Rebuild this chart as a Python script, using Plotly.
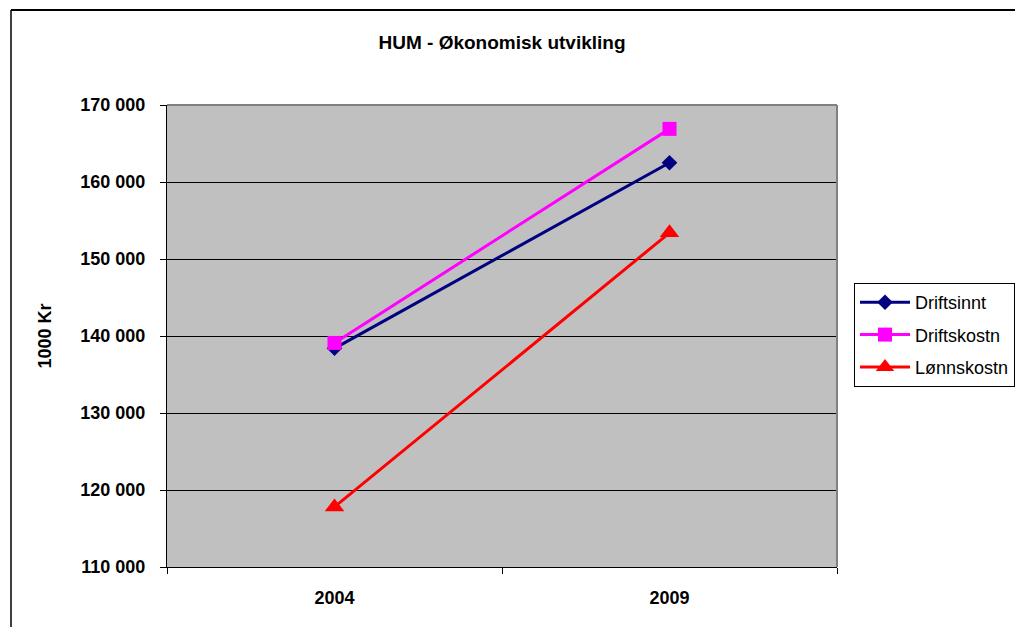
import plotly.graph_objects as go

years = ["2004", "2009"]
driftsinnt = [138400, 162500]
driftskostn = [139100, 166900]
lonnskostn = [117800, 153400]
y_ticks = [110000, 120000, 130000, 140000, 150000, 160000, 170000]
y_tick_text = ["110 000", "120 000", "130 000", "140 000", "150 000", "160 000", "170 000"]

W, H = 1015, 627
L, R, T, B = 167, 837, 105, 567

fig = go.Figure()
series = [
    ("Driftsinnt", driftsinnt, "#000080", "diamond", 12),
    ("Driftskostn", driftskostn, "#FF00FF", "square", 14),
    ("Lønnskostn", lonnskostn, "#FF0000", "triangle-up", 17),
]
for i, (name, vals, col, sym, size) in enumerate(series):
    fig.add_trace(go.Scatter(
        x=years, y=vals, name=name, mode="lines+markers",
        legendgroup="g%d" % i,
        line=dict(color=col, width=3),
        marker=dict(symbol=sym, size=size, color=col),
    ))

font = "Liberation Sans, Arial, sans-serif"


def px_x(p):
    return (p - L) / (R - L)


def px_y(p):
    return (B - p) / (B - T)


fig.update_layout(
    width=W, height=H,
    margin=dict(l=L, r=W - R, t=T, b=H - B, autoexpand=False),
    paper_bgcolor="white",
    plot_bgcolor="#C0C0C0",
    font=dict(family=font, size=18, color="black"),
    title=dict(text="<b>HUM - Økonomisk utvikling</b>", x=0.5, xref="paper",
               xanchor="center", y=1 - 42 / H, yanchor="middle",
               font=dict(size=19)),
    xaxis=dict(
        type="category", range=[-0.5, 1.5], showgrid=False,
        ticks="outside", tickson="boundaries", ticklen=6, tickcolor="black",
        showline=True, linecolor="black", linewidth=1,
        tickfont=dict(size=18, family=font), ticklabelstandoff=14,
        tickprefix="<b>", ticksuffix="</b>", zeroline=False,
    ),
    yaxis=dict(
        range=[110000, 170000], tickvals=y_ticks,
        ticktext=["<b>%s</b>" % t for t in y_tick_text],
        showgrid=True, gridcolor="black", gridwidth=1,
        ticks="outside", ticklen=6, tickcolor="black",
        showline=True, linecolor="black", linewidth=1,
        zeroline=False, tickfont=dict(size=18, family=font),
        ticklabelstandoff=11,
        title=dict(text="<b>1000 Kr</b>", standoff=24, font=dict(size=18)),
    ),
    showlegend=True,
    legend=dict(
        x=px_x(854), xanchor="left",
        y=px_y(283), yanchor="top",
        bordercolor="black", borderwidth=1, bgcolor="white",
        font=dict(size=18, family=font),
        tracegroupgap=6, itemwidth=50,
    ),
    shapes=[
        # plot-area frame: grey top/right edges
        dict(type="line", xref="paper", yref="paper", x0=0, x1=1, y0=1, y1=1,
             line=dict(color="#808080", width=2)),
        dict(type="line", xref="paper", yref="paper", x0=1, x1=1, y0=0, y1=1,
             line=dict(color="#808080", width=2)),
        # outer chart border (top and left)
        dict(type="line", xref="paper", yref="paper",
             x0=px_x(11), x1=px_x(W), y0=px_y(10), y1=px_y(10),
             line=dict(color="black", width=2)),
        dict(type="line", xref="paper", yref="paper",
             x0=px_x(11), x1=px_x(11), y0=px_y(10), y1=px_y(H),
             line=dict(color="black", width=1.5)),
    ],
)

fig.write_html("out.html")
